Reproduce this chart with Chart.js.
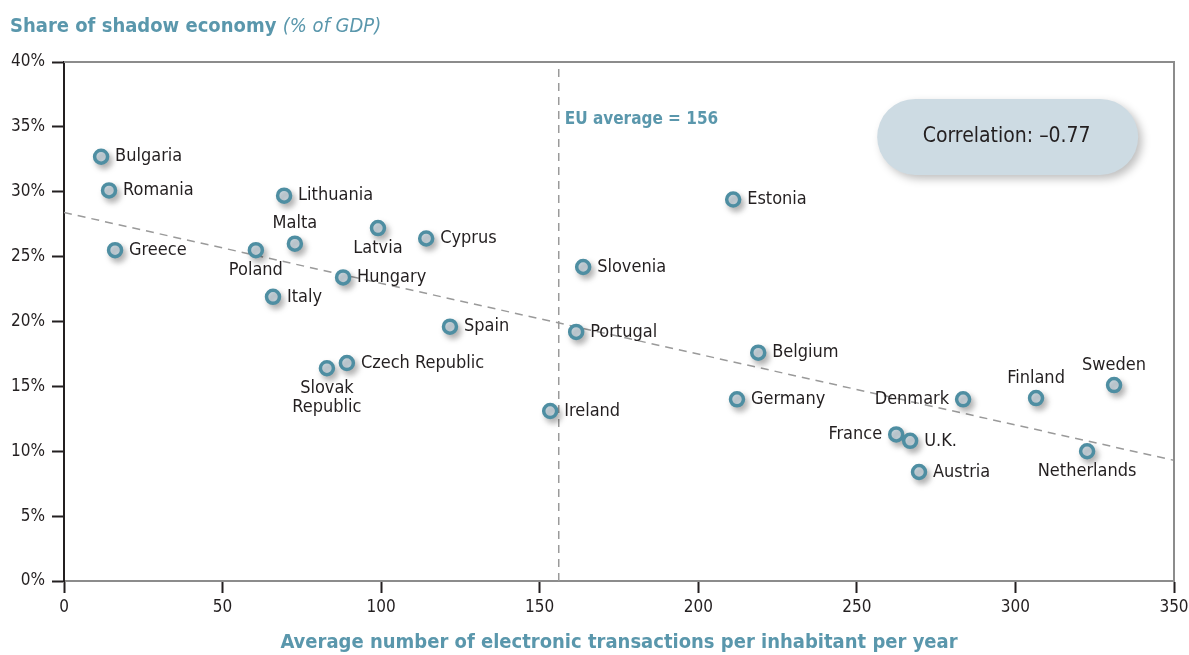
<!DOCTYPE html>
<html>
<head>
<meta charset="utf-8">
<script src="https://cdn.jsdelivr.net/npm/chart.js@4.4.0/dist/chart.umd.min.js"></script>
<style>
    html, body { margin: 0; padding: 0; background: #fff; }
    #wrap { width: 1189px; height: 655px; }
</style>
</head>
<body>
<div id="wrap"><canvas id="shadowChart" width="1189" height="655"></canvas></div>
<script>
// values
const countries = ['Bulgaria', 'Romania', 'Greece', 'Poland', 'Malta', 'Lithuania', 'Latvia', 'Cyprus',
    'Hungary', 'Italy', 'Spain', 'Czech Republic', 'Slovak Republic', 'Ireland', 'Portugal', 'Slovenia',
    'Estonia', 'Belgium', 'Germany', 'Denmark', 'Finland', 'Sweden', 'France', 'U.K.', 'Austria', 'Netherlands'];
const transactions = [11.7, 14.2, 16.1, 60.5, 72.8, 69.4, 99.0, 114.2,
    88.0, 65.9, 121.7, 89.2, 82.9, 153.3, 161.5, 163.7,
    211.0, 218.9, 212.2, 283.5, 306.5, 331.1, 262.4, 266.8, 269.6, 322.6];
const shadowShare = [32.7, 30.1, 25.5, 25.5, 26.0, 29.7, 27.2, 26.4,
    23.4, 21.9, 19.6, 16.8, 16.4, 13.1, 19.2, 24.2,
    29.4, 17.6, 14.0, 14.0, 14.1, 15.1, 11.3, 10.8, 8.4, 10.0];
const xTicks = [0, 50, 100, 150, 200, 250, 300, 350];
const yTicks = [0, 5, 10, 15, 20, 25, 30, 35, 40];
const euAverage = 156;
const trendX = [0, 350];
const trendY = [28.4, 9.3];
const correlationText = 'Correlation: \u20130.77';

// where each country name sits next to its marker
const labelSide = {
    'Poland': 'below', 'Latvia': 'below', 'Slovak Republic': 'below', 'Netherlands': 'below',
    'Malta': 'above', 'Finland': 'above', 'Sweden': 'above',
    'Denmark': 'left', 'France': 'left'
};
const wrapLabels = ['Slovak Republic'];

const TEAL = '#5a97ac';
const DARK = '#231f20';
const FONT = '"DejaVu Sans Condensed", "DejaVu Sans", sans-serif';

const points = countries.map((c, i) => ({ x: transactions[i], y: shadowShare[i] }));

const decorPlugin = {
    id: 'decor',
    beforeDatasetDraw(chart, args) {
        if (args.index === 0) {
            const ctx = chart.ctx;
            ctx.save();
            ctx.shadowColor = 'rgba(0,0,0,0.28)';
            ctx.shadowBlur = 6;
            ctx.shadowOffsetX = 3;
            ctx.shadowOffsetY = 4;
        }
    },
    afterDatasetDraw(chart, args) {
        if (args.index === 0) chart.ctx.restore();
    },
    afterDraw(chart) {
        const ctx = chart.ctx;
        const area = chart.chartArea;
        const xs = chart.scales.x;
        const ys = chart.scales.y;

        // top and right frame
        ctx.save();
        ctx.strokeStyle = '#8c8c8c';
        ctx.lineWidth = 2;
        ctx.beginPath();
        ctx.moveTo(area.left, area.top);
        ctx.lineTo(area.right, area.top);
        ctx.lineTo(area.right, area.bottom);
        ctx.stroke();
        ctx.restore();

        // country labels
        ctx.save();
        ctx.font = '18px ' + FONT;
        ctx.fillStyle = DARK;
        const meta = chart.getDatasetMeta(0);
        countries.forEach((name, i) => {
            const pt = meta.data[i];
            const side = labelSide[name] || 'right';
            const lines = wrapLabels.includes(name) ? name.split(' ') : [name];
            if (side === 'right') {
                ctx.textAlign = 'left';
                ctx.textBaseline = 'middle';
                ctx.fillText(name, pt.x + 14, pt.y);
            } else if (side === 'left') {
                ctx.textAlign = 'right';
                ctx.textBaseline = 'middle';
                ctx.fillText(name, pt.x - 14, pt.y);
            } else if (side === 'above') {
                ctx.textAlign = 'center';
                ctx.textBaseline = 'bottom';
                ctx.fillText(name, pt.x, pt.y - 11);
            } else {
                ctx.textAlign = 'center';
                ctx.textBaseline = 'top';
                lines.forEach((l, j) => ctx.fillText(l, pt.x, pt.y + 11 + j * 19));
            }
        });
        ctx.restore();

        // EU average label
        ctx.save();
        ctx.font = 'bold 17px ' + FONT;
        ctx.fillStyle = TEAL;
        ctx.textAlign = 'left';
        ctx.textBaseline = 'middle';
        ctx.fillText('EU average = ' + euAverage, xs.getPixelForValue(euAverage) + 6, ys.getPixelForValue(35.6));
        ctx.restore();

        // correlation pill
        const px0 = xs.getPixelForValue(256.4), px1 = xs.getPixelForValue(338.7);
        const py0 = ys.getPixelForValue(37.15), py1 = ys.getPixelForValue(31.3);
        ctx.save();
        ctx.shadowColor = 'rgba(0,0,0,0.25)';
        ctx.shadowBlur = 8;
        ctx.shadowOffsetX = 4;
        ctx.shadowOffsetY = 4;
        ctx.fillStyle = '#cddbe3';
        ctx.beginPath();
        ctx.roundRect(px0, py0, px1 - px0, py1 - py0, (py1 - py0) / 2);
        ctx.fill();
        ctx.restore();
        ctx.save();
        ctx.font = '21px ' + FONT;
        ctx.fillStyle = DARK;
        ctx.textAlign = 'center';
        ctx.textBaseline = 'middle';
        ctx.fillText(correlationText, (px0 + px1) / 2 - 1, (py0 + py1) / 2);
        ctx.restore();

        // y axis title
        ctx.save();
        ctx.textBaseline = 'middle';
        ctx.textAlign = 'left';
        ctx.fillStyle = TEAL;
        ctx.font = 'bold 20px ' + FONT;
        const t1 = 'Share of shadow economy ';
        ctx.fillText(t1, 10, 27);
        const w = ctx.measureText(t1).width;
        ctx.font = 'italic 20px ' + FONT;
        ctx.fillText('(% of GDP)', 10 + w, 27);
        ctx.restore();
    }
};

const ctx = document.getElementById('shadowChart').getContext('2d');
new Chart(ctx, {
    type: 'scatter',
    data: {
        datasets: [
            {
                label: 'Countries',
                data: points,
                pointRadius: 6.5,
                pointHoverRadius: 6.5,
                borderWidth: 3.5,
                backgroundColor: '#d2dfe7',
                borderColor: '#4e8ea2'
            },
            {
                type: 'line',
                label: 'Trend',
                data: trendX.map((x, i) => ({ x: x, y: trendY[i] })),
                borderColor: '#9a9a9a',
                borderWidth: 1.5,
                borderDash: [8, 6],
                pointRadius: 0,
                fill: false
            },
            {
                type: 'line',
                label: 'EU average',
                data: [{ x: euAverage, y: 0 }, { x: euAverage, y: 40 }],
                borderColor: '#9a9a9a',
                borderWidth: 1.5,
                borderDash: [8, 6],
                pointRadius: 0,
                fill: false
            }
        ]
    },
    options: {
        responsive: false,
        animation: false,
        layout: { padding: { top: 62, right: 15, left: 0, bottom: 0 } },
        plugins: {
            legend: { display: false },
            tooltip: { enabled: false }
        },
        scales: {
            x: {
                type: 'linear',
                min: xTicks[0],
                max: xTicks[xTicks.length - 1],
                afterBuildTicks: s => { s.ticks = xTicks.map(v => ({ value: v })); },
                afterFit: s => { s.height = 74; s.paddingLeft = 0; s.paddingRight = 0; },
                grid: { drawOnChartArea: false, drawTicks: true, tickLength: 12, tickColor: DARK, tickWidth: 2 },
                border: { color: '#8c8c8c', width: 2 },
                ticks: { color: DARK, font: { family: FONT, size: 17 }, padding: 4, maxRotation: 0 },
                title: {
                    display: true,
                    text: 'Average number of electronic transactions per inhabitant per year',
                    color: TEAL,
                    font: { family: FONT, size: 20, weight: 'bold' },
                    padding: { top: 0, bottom: 0 }
                }
            },
            y: {
                type: 'linear',
                min: yTicks[0],
                max: yTicks[yTicks.length - 1],
                afterBuildTicks: s => { s.ticks = yTicks.map(v => ({ value: v })); },
                afterFit: s => { s.width = 64; s.paddingTop = 0; s.paddingBottom = 0; },
                grid: { drawOnChartArea: false, drawTicks: true, tickLength: 12, tickColor: DARK, tickWidth: 2 },
                border: { color: DARK, width: 2 },
                ticks: {
                    color: DARK,
                    font: { family: FONT, size: 17 },
                    padding: 7,
                    callback: v => v + '%'
                }
            }
        }
    },
    plugins: [decorPlugin]
});
</script>
</body>
</html>
